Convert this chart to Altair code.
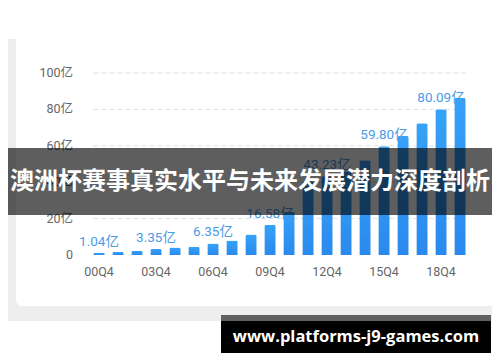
import altair as alt
import pandas as pd

# ---- data ----
quarters = ["00Q4", "01Q4", "02Q4", "03Q4", "04Q4", "05Q4", "06Q4", "07Q4", "08Q4", "09Q4",
            "10Q4", "11Q4", "12Q4", "13Q4", "14Q4", "15Q4", "16Q4", "17Q4", "18Q4", "19Q4"]
values = [1.04, 1.6, 2.4, 3.35, 4.1, 4.6, 6.35, 8.0, 11.2, 16.58,
          23.8, 40.5, 43.23, 46.0, 52.0, 59.80, 65.4, 72.4, 80.09, 86.3]
labeled_quarters = ["00Q4", "03Q4", "06Q4", "09Q4", "12Q4", "15Q4", "18Q4"]
x_tick_labels = ["00Q4", "03Q4", "06Q4", "09Q4", "12Q4", "15Q4", "18Q4"]
y_ticks = [0, 20, 40, 60, 80, 100]
y_tick_labels = ["0", "20亿", "40亿", "60亿", "80亿", "100亿"]
banner_title = "澳洲杯赛事真实水平与未来发展潜力深度剖析"
watermark = "www.platforms-j9-games.com"

df = pd.DataFrame({"q": quarters, "v": values})
lab = df[df["q"].isin(labeled_quarters)].copy()
lab["t"] = lab["v"].map(lambda v: f"{v:.2f}亿")
yt = pd.DataFrame({"t": y_ticks, "s": y_tick_labels})
grid = yt[yt["t"] > 0]

one = pd.DataFrame({"k": [0]})
FONT = "Roboto, 'Noto Sans CJK SC', sans-serif"

xs = alt.Scale(domain=quarters, paddingInner=0.4, paddingOuter=0.2)
ys = alt.Scale(domain=[0, 100], nice=False)


def rect(x, x2, y, y2, color, **kw):
    return alt.Chart(one).mark_rect(color=color, **kw).encode(
        x=alt.value(x), x2=alt.value(x2), y=alt.value(y), y2=alt.value(y2))


# background: grey frame strips around the white card (left and bottom)
grey_left = rect(-82, -73.5, -34, 248, "#eeeeee")
grey_bottom = rect(-82, 403, 233, 248, "#eeeeee")
corner_grey = rect(-73.5, -67.5, 227, 233, "#eeeeee")
corner_white = rect(-73.5, -55, 213, 233, "#ffffff", cornerRadius=6)

gridlines = alt.Chart(grid).mark_rule(color="#e0e0e0", strokeDash=[5, 3], strokeWidth=1).encode(
    y=alt.Y("t:Q", scale=ys, axis=None), x=alt.value(3.5), x2=alt.value(377))

ylabels = alt.Chart(yt).mark_text(
    align="right", baseline="middle", fontSize=12.5, color="#666666", font=FONT
).encode(y=alt.Y("t:Q", scale=ys, axis=None), x=alt.value(-16.5), text="s:N")

bars = alt.Chart(df).mark_bar(
    cornerRadiusTopLeft=2, cornerRadiusTopRight=2,
    color=alt.Gradient(gradient="linear", x1=0, x2=0, y1=0, y2=1,
                       stops=[alt.GradientStop(color="#36a2f8", offset=0),
                              alt.GradientStop(color="#2a89ee", offset=1)])
).encode(
    x=alt.X("q:N", scale=xs, sort=quarters,
            axis=alt.Axis(values=x_tick_labels, title=None, labelAngle=0, ticks=False,
                          domain=False, grid=False, labelPadding=10, labelFontSize=12.5,
                          labelColor="#666666", labelFont=FONT, labelOverlap=False)),
    y=alt.Y("v:Q", scale=ys, axis=None),
)

labels = alt.Chart(lab).mark_text(
    dy=-11, baseline="middle", align="center", fontSize=13.5, color="#4a9be8", font=FONT
).encode(x=alt.X("q:N", scale=xs, sort=quarters),
         y=alt.Y("v:Q", scale=ys, axis=None), text="t:N")

banner = rect(-82, 403, 75, 142, "#000000", opacity=0.63)
banner_text = alt.Chart(one).mark_text(
    color="#ffffff", fontSize=24, fontWeight="bold", font="'Noto Sans CJK SC'",
    align="center", baseline="middle"
).encode(x=alt.value(160.5), y=alt.value(109), text=alt.value(banner_title))

wm_top = rect(131.5, 401.5, 242, 248, "#606060")
wm_box = rect(131.5, 401.5, 248, 280, "#000000")
wm_text = alt.Chart(one).mark_text(
    color="#ffffff", fontSize=16.5, fontWeight="bold", font="'Open Sans', sans-serif",
    align="center", baseline="middle"
).encode(x=alt.value(266.5), y=alt.value(264), text=alt.value(watermark))

chart = alt.layer(
    grey_left, grey_bottom, corner_grey, corner_white, gridlines, ylabels,
    bars, labels, banner, banner_text, wm_top, wm_box, wm_text
).properties(
    width=380, height=182,
    padding={"left": 81.5, "top": 65, "right": 22.5, "bottom": 99},
    autosize=alt.AutoSizeParams(type="none"),
    background="#ffffff",
).configure_view(strokeWidth=0)

chart.save("out.html", embed_options={"renderer": "svg", "actions": False})
